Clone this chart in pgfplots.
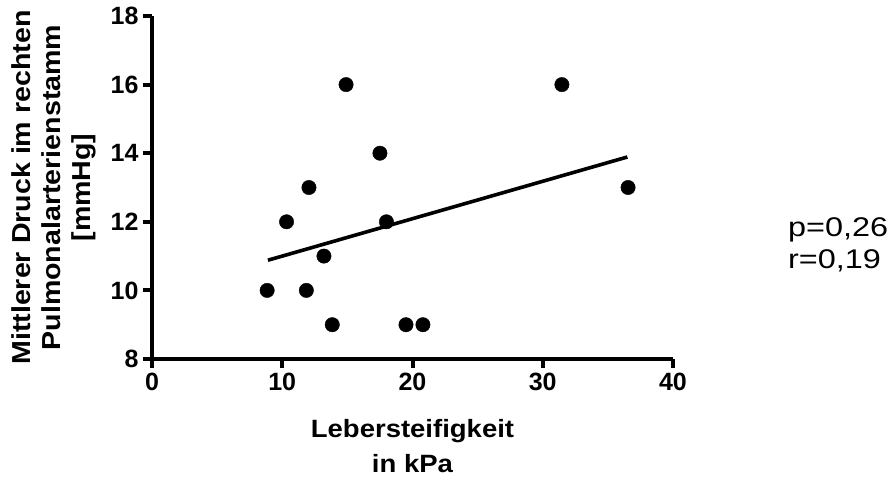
\documentclass[border=0pt]{standalone}
\usepackage{fontspec}
\setmainfont{Liberation Sans}[FakeStretch=1.1]
\newfontfamily\tfont{Liberation Sans}
\newfontfamily\pfont{Liberation Sans}[FakeStretch=1.2]
\usepackage{pgfplots}
\pgfplotsset{compat=1.18}
\begin{document}
\begin{tikzpicture}
\useasboundingbox (-152pt,-118pt) rectangle (741pt,359pt);
\begin{axis}[
  at={(0,0)}, anchor=south west,
  scale only axis, width=521pt, height=343pt,
  xmin=0, xmax=40, ymin=8, ymax=18,
  enlargelimits=false,
  axis x line*=bottom, axis y line*=left,
  axis line style={line width=4.5pt, black, -},
  xtick={0,10,20,30,40}, ytick={8,10,12,14,16,18},
  tick align=outside, major tick length=9pt,
  tick style={line width=4pt, black},
  /pgf/number format/assume math mode=true,
  tick label style={font=\tfont\fontsize{25}{27}\selectfont\bfseries},
  xticklabel style={yshift=-2pt},
  yticklabel style={xshift=-1pt},
  xlabel={Lebersteifigkeit\\in kPa},
  xlabel style={at={(axis description cs:0.5,0)}, yshift=-87pt, anchor=center,
    align=center, font=\fontsize{25}{35}\selectfont\bfseries},
  ylabel={Mittlerer Druck im rechten\\Pulmonalarterienstamm\\{[}mmHg{]}},
  ylabel style={at={(axis description cs:-0.189,0.5)}, anchor=center,
    align=center, font=\fontsize{26}{30}\selectfont\bfseries},
  clip=false,
]
\addplot[only marks, mark=*, mark size=7.2pt, black] coordinates {
  (8.84,10) (10.33,12) (11.85,10) (12.05,13) (13.2,11) (13.84,9)
  (14.9,16) (17.5,14) (18.0,12) (19.5,9) (20.8,9) (31.47,16) (36.55,13)
};
\addplot[black, line width=3.6pt] coordinates {(8.9,10.88) (36.5,13.89)};
\node[anchor=base west, inner sep=0, font=\pfont\fontsize{27}{31}\selectfont]
  at (axis description cs:1.2207,0.3557) {p=0,26};
\node[anchor=base west, inner sep=0, font=\pfont\fontsize{27}{31}\selectfont]
  at (axis description cs:1.2207,0.2653) {r=0,19};
\end{axis}
\end{tikzpicture}
\end{document}
